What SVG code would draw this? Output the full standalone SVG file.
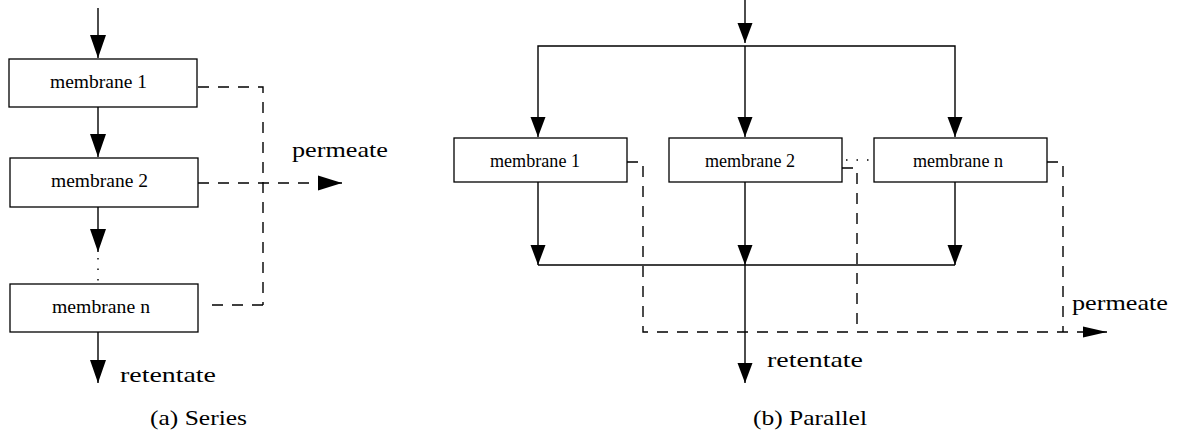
<svg xmlns="http://www.w3.org/2000/svg" width="1181" height="435" viewBox="0 0 1181 435">
<style>
.box{fill:#fff;stroke:#000;stroke-width:1.3}
.ln{fill:none;stroke:#000;stroke-width:1.4}
.dash{fill:none;stroke:#000;stroke-width:1.4;stroke-dasharray:11,9}
.dot{fill:none;stroke:#000;stroke-width:1.4;stroke-dasharray:1.5,9}
.mt{font-family:"Liberation Serif",serif;font-size:18.5px;fill:#000}
.lb{font-family:"Liberation Serif",serif;font-size:22px;fill:#000}
</style>
<defs>
<marker id="aA" markerUnits="userSpaceOnUse" markerWidth="24" markerHeight="18" refX="23" refY="8" orient="auto" overflow="visible"><path d="M0,0 L23,8 L0,16 Z" fill="#000"/></marker>
<marker id="aB" markerUnits="userSpaceOnUse" markerWidth="22" markerHeight="16" refX="20" refY="7.5" orient="auto" overflow="visible"><path d="M0,0 L20,7.5 L0,15 Z" fill="#000"/></marker>
<marker id="aS" markerUnits="userSpaceOnUse" markerWidth="26" markerHeight="16" refX="24" refY="7.5" orient="auto" overflow="visible"><path d="M0,0 L24,7.5 L0,15 Z" fill="#000"/></marker>
<marker id="aP" markerUnits="userSpaceOnUse" markerWidth="26" markerHeight="12" refX="24" refY="5.5" orient="auto" overflow="visible"><path d="M0,0 L24,5.5 L0,11 Z" fill="#000"/></marker>
</defs>

<g id="connectors">
<!-- series -->
<path class="ln" d="M98,8 V58" marker-end="url(#aA)"/>
<path class="ln" d="M98,107 V157" marker-end="url(#aA)"/>
<path class="ln" d="M98,207 V252" marker-end="url(#aA)"/>
<path class="dot" d="M98,258 V283"/>
<path class="ln" d="M98,332 V383" marker-end="url(#aA)"/>
<path class="dash" d="M198,87 H263 V305"/>
<path class="dash" d="M263,305 H212"/>
<path class="dash" d="M198,183 H342" marker-end="url(#aS)"/>
<!-- parallel -->
<path class="ln" d="M745,0 V43" marker-end="url(#aB)"/>
<path class="ln" d="M745,46 H538 V137" marker-end="url(#aB)"/>
<path class="ln" d="M745,46 H955 V137" marker-end="url(#aB)"/>
<path class="ln" d="M745,46 V137" marker-end="url(#aB)"/>
<path class="ln" d="M538,182 V265" marker-end="url(#aB)"/>
<path class="ln" d="M745,182 V265" marker-end="url(#aB)"/>
<path class="ln" d="M955,182 V265" marker-end="url(#aB)"/>
<path class="ln" d="M538,265 H955"/>
<path class="ln" d="M745,265 V383" marker-end="url(#aB)"/>
<path class="dash" d="M627,162 H643 V332 H1107" marker-end="url(#aP)"/>
<path class="dash" d="M842,168 H857 V332"/>
<path class="dash" d="M1047,162 H1063 V332"/>
<path class="dot" d="M846,160 H874"/>
</g>

<g id="s-m1"><rect class="box" x="9" y="59" width="188" height="48"/><text class="mt" x="50" y="88" textLength="97" lengthAdjust="spacingAndGlyphs">membrane 1</text></g>
<g id="s-m2"><rect class="box" x="10" y="158" width="188" height="49"/><text class="mt" x="51" y="187" textLength="97" lengthAdjust="spacingAndGlyphs">membrane 2</text></g>
<g id="s-mn"><rect class="box" x="10" y="284" width="188" height="48"/><text class="mt" x="52" y="313" textLength="98" lengthAdjust="spacingAndGlyphs">membrane n</text></g>

<g id="p-m1"><rect class="box" x="454" y="138" width="173" height="44"/><text class="mt" x="490" y="167" textLength="90" lengthAdjust="spacingAndGlyphs">membrane 1</text></g>
<g id="p-m2"><rect class="box" x="669" y="138" width="173" height="44"/><text class="mt" x="705" y="167" textLength="90" lengthAdjust="spacingAndGlyphs">membrane 2</text></g>
<g id="p-mn"><rect class="box" x="874" y="138" width="173" height="44"/><text class="mt" x="913" y="167" textLength="90" lengthAdjust="spacingAndGlyphs">membrane n</text></g>

<g id="labels">
<text class="lb" x="292" y="157" textLength="96" lengthAdjust="spacingAndGlyphs">permeate</text>
<text class="lb" x="120" y="382" textLength="96" lengthAdjust="spacingAndGlyphs">retentate</text>
<text class="lb" x="150" y="425" textLength="97" lengthAdjust="spacingAndGlyphs">(a)  Series</text>
<text class="lb" x="767" y="367" textLength="96" lengthAdjust="spacingAndGlyphs">retentate</text>
<text class="lb" x="1072" y="310" textLength="96" lengthAdjust="spacingAndGlyphs">permeate</text>
<text class="lb" x="753" y="425" textLength="114" lengthAdjust="spacingAndGlyphs">(b)  Parallel</text>
</g>
</svg>
